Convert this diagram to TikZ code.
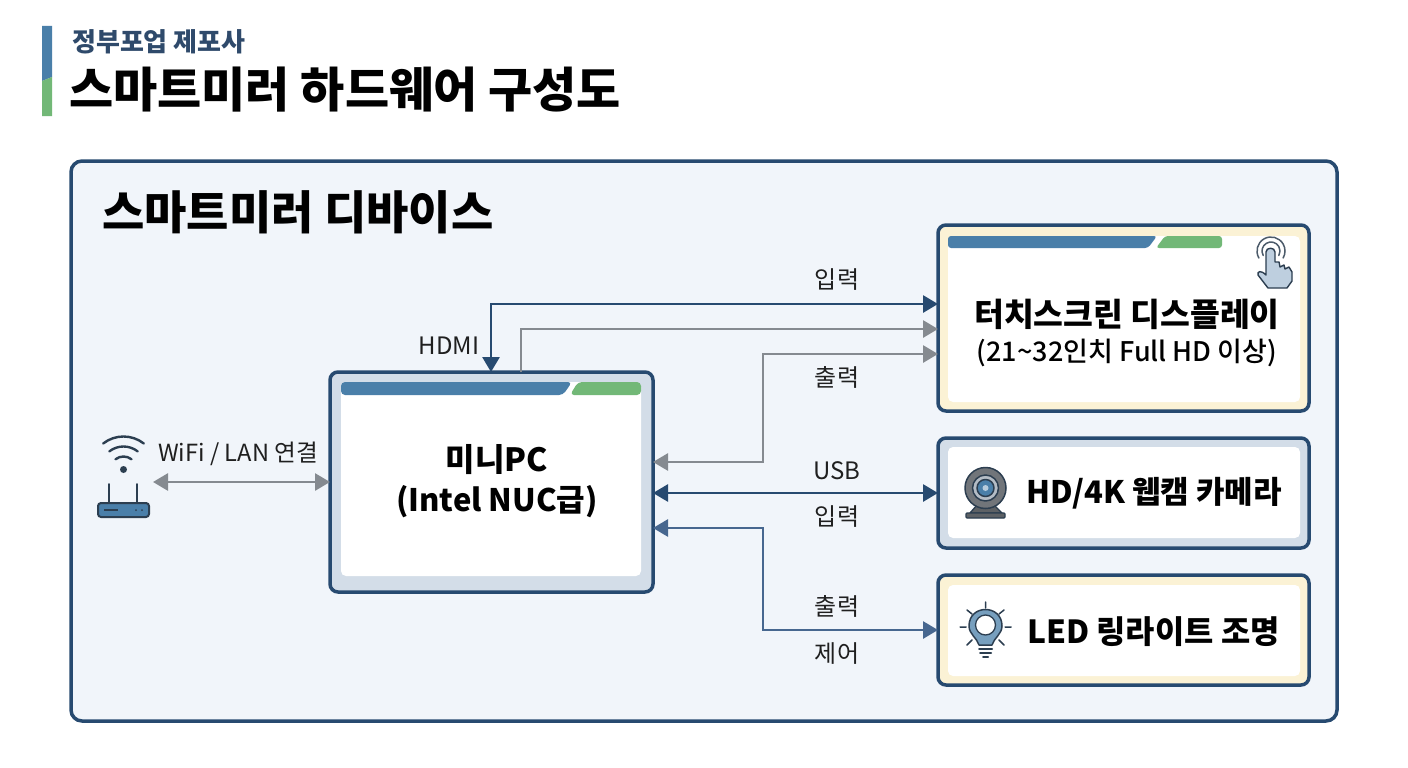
\documentclass[tikz,border=0pt]{standalone}
\usepackage{fontspec}
\setmainfont{Noto Sans CJK KR}
\usetikzlibrary{arrows.meta,calc}
\definecolor{navy}{HTML}{274A70}
\definecolor{panelbg}{HTML}{F1F5FA}
\definecolor{cream}{HTML}{FBF2D5}
\definecolor{tint}{HTML}{D3DDE8}
\definecolor{barblue}{HTML}{4A7FA9}
\definecolor{bargreen}{HTML}{72B877}
\definecolor{arrgray}{HTML}{858A90}
\definecolor{arrblue}{HTML}{47678F}
\definecolor{sub}{HTML}{2F4A6B}
\definecolor{iconline}{HTML}{2C3E50}
\tikzset{
  devbox/.style={draw=navy,line width=3.5pt,rounded corners=8pt,inner sep=0pt,outer sep=0pt},
  inner/.style={fill=white,rounded corners=5pt},
  lbl/.style={inner sep=0pt,font=\fontsize{24}{26}\selectfont,text=black!88},
  head/.style={inner sep=0pt,font=\fontsize{31}{36}\selectfont\bfseries,text=black},
  conn/.style={line width=2.8pt,line join=miter},
  tipped/.style={-{Triangle[length=15pt,width=17pt]}},
  both/.style={{Triangle[length=15pt,width=17pt]}-{Triangle[length=15pt,width=17pt]}},
  ic/.style={draw=iconline,line width=1.5pt,line cap=round,line join=round},
}
\begin{document}
\begin{tikzpicture}[x=1pt,y=-1pt]
\useasboundingbox (0,0) rectangle (1408,768);
\fill[white] (0,0) rectangle (1408,768);

% title block
\fill[barblue] (42,26) -- (52,26) -- (52,77) -- (42,81) -- cycle;
\fill[bargreen] (42,81) -- (52,77) -- (52,116) -- (42,116) -- cycle;
\node[anchor=west,inner sep=0pt,font=\fontsize{26}{29}\selectfont\bfseries,text=sub] (subtitle) at (72,42) {정부포업 제포사};
\node[anchor=west,inner sep=0pt,font=\fontsize{48}{54}\selectfont\bfseries,text=black] (title) at (69,90) {스마트미러 하드웨어 구성도};

% panel
\node[devbox,fill=panelbg,rounded corners=11pt,minimum width=1266pt,minimum height=560pt,anchor=north west] (panel) at (71,161) {};
\node[anchor=west,inner sep=0pt,font=\fontsize{46}{50}\selectfont\bfseries,text=black] (paneltitle) at (102,212) {스마트미러 디바이스};

% boxes
\node[devbox,fill=tint,minimum width=323pt,minimum height=220pt,anchor=north west] (pc) at (330,372) {};
\fill[inner] (341,382) rectangle (641,576);
\fill[barblue,rounded corners=4pt] (341,395) -- (341,382) -- (572,382) -- (563,395) -- cycle;
\fill[bargreen,rounded corners=4pt] (570,395) -- (578,382) -- (641,382) -- (641,395) -- cycle;

\node[devbox,fill=cream,minimum width=371pt,minimum height=186pt,anchor=north west] (touch) at (938,225) {};
\fill[inner] (948,236) rectangle (1300,402);
\fill[barblue,rounded corners=3pt] (948,248) -- (948,236) -- (1157,236) -- (1148,248) -- cycle;
\fill[bargreen,rounded corners=3pt] (1156,248) -- (1165,236) -- (1222,236) -- (1222,248) -- cycle;

\node[devbox,fill=tint,minimum width=371pt,minimum height=110pt,anchor=north west] (cam) at (938,438) {};
\fill[inner] (948,447) rectangle (1300,538);
\node[devbox,fill=cream,minimum width=371pt,minimum height=110pt,anchor=north west] (led) at (938,575) {};
\fill[inner] (948,585) rectangle (1300,676);

% box texts
\node[head,font=\fontsize{32}{38}\selectfont\bfseries] (pc1) at (497,460) {미니PC};
\node[head,font=\fontsize{31}{38}\selectfont\bfseries] (pc2) at (497,502) {(Intel NUC급)};
\node[head,font=\fontsize{32.4}{38}\selectfont\bfseries] (touch1) at (1127,314) {터치스크린 디스플레이};
\node[inner sep=0pt,font=\fontsize{27}{30}\selectfont\fontspec{Noto Sans CJK KR Medium},text=black] (touch2) at (1127,353) {(21\textasciitilde32인치 Full HD 이상)};
\node[head,anchor=west] (camt) at (1026,493) {HD/4K 웹캠 카메라};
\node[head,anchor=west,font=\fontsize{31.8}{38}\selectfont\bfseries] (ledt) at (1027,632) {LED 링라이트 조명};

% rails
\coordinate (r1) at (0,304);
\coordinate (r2) at (0,329);
\coordinate (r3) at (0,354);
\coordinate (r4) at (0,462);
\coordinate (r5) at (0,493);
\coordinate (r6) at (0,528);
\coordinate (r7) at (0,630);
\coordinate (r8) at (0,482);
\coordinate (c1) at (491,0);
\coordinate (c2) at (521,0);
\coordinate (c3) at (763,0);
\coordinate (router) at (153,482);

% connectors
\draw[conn,draw=navy,both] (pc.north -| c1) -- (c1 |- r1) -- (touch.west |- r1);
\draw[conn,draw=arrgray,tipped] (pc.north -| c2) -- (c2 |- r2) -- (touch.west |- r2);
\draw[conn,draw=arrgray,both] (pc.east |- r4) -- (c3 |- r4) -- (c3 |- r3) -- (touch.west |- r3);
\draw[conn,draw=navy,both] (pc.east |- r5) -- (cam.west |- r5);
\draw[conn,draw=arrblue,both] (pc.east |- r6) -- (c3 |- r6) -- (c3 |- r7) -- (led.west |- r7);
\draw[conn,draw=arrgray,both] (router) -- (pc.west |- r8);

% labels
\node[lbl] (l1) at (837,280) {입력};
\node[lbl] (l2) at (837,377) {출력};
\node[lbl] (l3) at (449,346) {HDMI};
\node[lbl] (l4) at (837,471) {USB};
\node[lbl] (l5) at (837,517) {입력};
\node[lbl] (l6) at (837,606) {출력};
\node[lbl] (l7) at (837,654) {제어};
\node[lbl,font=\fontsize{23.6}{26}\selectfont] (l8) at (238,454) {WiFi / LAN 연결};

% router icon
\fill[iconline] (123.5,469.5) circle[radius=3.5];
\foreach \R in {13,23,33}
  \draw[ic,line width=2.4pt] (123.5,469.5) ++(232:\R) arc[start angle=232,end angle=308,radius=\R];
\draw[ic,line width=2pt] (109,484) -- (109,503) (137,484) -- (137,503);
\draw[ic,line width=2pt,fill=barblue,rounded corners=3pt] (98,503) rectangle (149,517);
\draw[iconline,line width=1.5pt] (104,510) -- (118,510);
\fill[iconline] (136,510) circle[radius=1] (142,510) circle[radius=1];

% touch icon
\draw[ic,draw=iconline!85] (1271,251) ++(150:9) arc[start angle=150,end angle=390,radius=9];
\draw[ic,draw=iconline!85] (1271,251) ++(150:14) arc[start angle=150,end angle=390,radius=14];
\draw[ic,fill=tint!85!barblue,line width=1.4pt]
  (1266,252) .. controls (1266,247) and (1275,247) .. (1275,252) -- (1275,262)
  -- (1279,262) -- (1280,267) -- (1284,265) -- (1285,269) -- (1289,267) -- (1292,272)
  -- (1292,281) -- (1287,288) -- (1268,288) -- (1258,275)
  .. controls (1257,271) and (1261,270) .. (1266,275) -- cycle;

% webcam icon
\draw[ic,fill=arrgray!70!black,line width=1.3pt] (977,505) -- (994,505) -- (1002,513) -- (970,513) -- cycle;
\draw[ic,fill=arrgray!70!black,line width=1.3pt,rounded corners=1pt] (966,513) rectangle (1005,518);
\draw[ic,fill=arrgray!85!black] (985.5,488) circle[radius=20.5];
\draw[ic,fill=tint!60!arrgray] (985.5,488) circle[radius=13];
\draw[ic,fill=barblue] (985.5,488) circle[radius=8.5];
\fill[barblue!40!white] (985.5,488) circle[radius=3];

% bulb icon
\draw[ic,fill=barblue!75!white] (979,645)
  .. controls (977,638) and (969,634) .. (969,626)
  .. controls (969,604) and (1002,604) .. (1002,626)
  .. controls (1002,634) and (994,638) .. (992,645) -- cycle;
\draw[ic,fill=white,line width=1.3pt] (985.5,625) circle[radius=10];
\draw[ic,line width=2pt] (979,649) -- (992,649) (980,653) -- (991,653) (983,657) -- (988,657);
\draw[ic,line width=1.5pt]
  (985.5,602) -- (985.5,608)
  (960,627) -- (966,627) (1005,627) -- (1011,627)
  (967,610) -- (972,614) (1004,610) -- (999,614)
  (967,645) -- (972,640) (1004,645) -- (999,640);
\end{tikzpicture}
\end{document}
